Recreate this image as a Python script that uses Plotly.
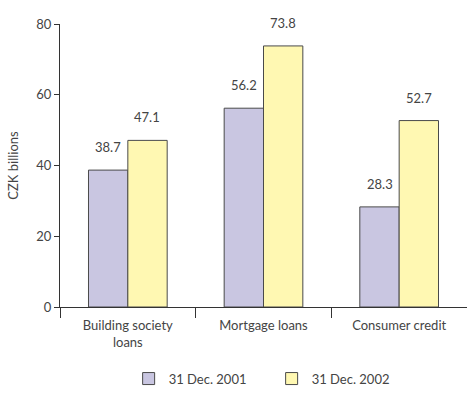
import plotly.graph_objects as go

categories = ["Building society<br>loans", "Mortgage loans", "Consumer credit"]
series_names = ["31 Dec. 2001", "31 Dec. 2002"]
values_2001 = [38.7, 56.2, 28.3]
values_2002 = [47.1, 73.8, 52.7]
y_ticks = [0, 20, 40, 60, 80]

colors = ["#c9c6e1", "#fff8b2"]
outline = "#4a4a4a"
text_color = "#444444"
font_family = "Lato, Open Sans, sans-serif"
font_size = 13

fig = go.Figure()
for name, vals, col in zip(series_names, [values_2001, values_2002], colors):
    fig.add_trace(go.Bar(
        x=categories, y=vals, name=name,
        marker=dict(color=col, line=dict(color=outline, width=1)),
    ))

# value labels above each bar
bar_half = 19.5
for vals, shift in zip([values_2001, values_2002], [-bar_half, bar_half]):
    for cat, v in zip(categories, vals):
        fig.add_annotation(
            x=cat, y=v, text=f"{v:.1f}", showarrow=False,
            xshift=shift, yshift=23, yanchor="middle",
            font=dict(family=font_family, size=font_size, color=text_color),
        )

fig.update_layout(
    width=467, height=401,
    margin=dict(l=60, r=0, t=24, b=94),
    paper_bgcolor="white", plot_bgcolor="white",
    barmode="group", bargap=0.42, bargroupgap=0,
    font=dict(family=font_family, size=font_size, color=text_color),
    legend=dict(
        orientation="h", x=0.52, xanchor="center", y=-0.2, yanchor="top",
        entrywidth=98, font=dict(size=font_size, color=text_color),
    ),
)
fig.update_xaxes(
    showline=True, linecolor="#333333", linewidth=1,
    ticks="outside", tickson="boundaries", ticklen=10, tickcolor="#333333",
    ticklabelstandoff=6,
    showgrid=False, range=[-0.5, 2.5],
)
fig.update_yaxes(
    range=[0, 80], tickvals=y_ticks,
    showline=True, linecolor="#333333", linewidth=1,
    ticks="outside", ticklen=5, tickcolor="#333333",
    showgrid=False, zeroline=False,
    title=dict(text="CZK billions", standoff=14, font=dict(size=font_size)),
)

fig.write_html("out.html")
